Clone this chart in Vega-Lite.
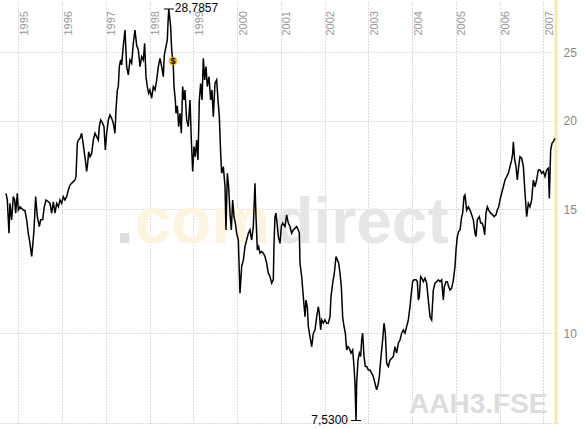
{
  "$schema": "https://vega.github.io/schema/vega-lite/v6.json",
  "width": 557,
  "height": 423,
  "autosize": {"type": "none"},
  "padding": {"left": 0, "top": 0, "right": 28, "bottom": 6},
  "background": "white",
  "config": {"view": {"stroke": null}, "font": "Liberation Sans"},
  "datasets": {
    "price": [
      {"t":1994.719,"v":15.79},{"t":1994.749,"v":15.45},{"t":1994.787,"v":13.86},{"t":1994.810,"v":15.28},{"t":1994.848,"v":14.48},
      {"t":1994.886,"v":15.62},{"t":1994.917,"v":15.45},{"t":1994.940,"v":14.80},{"t":1994.978,"v":15.79},{"t":1995.001,"v":14.95},
      {"t":1995.039,"v":15.11},{"t":1995.115,"v":14.95},{"t":1995.153,"v":14.92},{"t":1995.191,"v":14.48},{"t":1995.229,"v":13.86},
      {"t":1995.267,"v":13.41},{"t":1995.306,"v":12.85},{"t":1995.328,"v":13.27},{"t":1995.359,"v":14.01},{"t":1995.397,"v":15.62},
      {"t":1995.435,"v":14.63},{"t":1995.481,"v":14.17},{"t":1995.511,"v":14.48},{"t":1995.557,"v":14.48},{"t":1995.595,"v":15.11},
      {"t":1995.633,"v":15.45},{"t":1995.686,"v":15.36},{"t":1995.725,"v":15.28},{"t":1995.763,"v":14.80},{"t":1995.801,"v":15.36},
      {"t":1995.839,"v":14.80},{"t":1995.877,"v":15.28},{"t":1995.915,"v":15.11},{"t":1995.953,"v":15.45},{"t":1995.991,"v":15.28},
      {"t":1996.029,"v":15.62},{"t":1996.067,"v":15.45},{"t":1996.106,"v":15.62},{"t":1996.144,"v":15.96},{"t":1996.182,"v":16.22},
      {"t":1996.220,"v":16.31},{"t":1996.258,"v":16.40},{"t":1996.296,"v":16.49},{"t":1996.319,"v":16.67},{"t":1996.349,"v":18.58},
      {"t":1996.372,"v":18.78},{"t":1996.410,"v":18.89},{"t":1996.448,"v":19.20},{"t":1996.471,"v":18.78},{"t":1996.502,"v":18.18},
      {"t":1996.532,"v":17.60},{"t":1996.563,"v":16.95},{"t":1996.586,"v":17.41},{"t":1996.608,"v":18.08},{"t":1996.639,"v":17.79},
      {"t":1996.677,"v":17.98},{"t":1996.715,"v":18.78},{"t":1996.753,"v":19.20},{"t":1996.791,"v":18.99},{"t":1996.829,"v":18.78},
      {"t":1996.852,"v":19.62},{"t":1996.883,"v":20.05},{"t":1996.928,"v":19.83},{"t":1996.959,"v":19.62},{"t":1996.989,"v":18.18},
      {"t":1997.020,"v":19.20},{"t":1997.058,"v":20.05},{"t":1997.096,"v":20.38},{"t":1997.134,"v":20.16},{"t":1997.172,"v":19.83},
      {"t":1997.210,"v":19.20},{"t":1997.233,"v":20.71},{"t":1997.264,"v":22.11},{"t":1997.286,"v":22.35},{"t":1997.309,"v":23.86},
      {"t":1997.340,"v":24.38},{"t":1997.363,"v":23.99},{"t":1997.401,"v":25.56},{"t":1997.439,"v":26.88},{"t":1997.477,"v":23.86},
      {"t":1997.515,"v":23.22},{"t":1997.553,"v":24.38},{"t":1997.591,"v":24.12},{"t":1997.629,"v":25.73},{"t":1997.667,"v":26.88},
      {"t":1997.706,"v":25.56},{"t":1997.744,"v":25.19},{"t":1997.782,"v":23.86},{"t":1997.820,"v":24.64},{"t":1997.858,"v":24.38},
      {"t":1997.888,"v":25.73},{"t":1997.919,"v":23.09},{"t":1997.949,"v":22.35},{"t":1997.980,"v":21.87},{"t":1998.010,"v":22.11},
      {"t":1998.048,"v":21.52},{"t":1998.086,"v":22.35},{"t":1998.125,"v":22.11},{"t":1998.163,"v":22.84},{"t":1998.201,"v":23.86},
      {"t":1998.239,"v":24.51},{"t":1998.277,"v":23.86},{"t":1998.315,"v":23.09},{"t":1998.338,"v":24.78},{"t":1998.368,"v":25.33},
      {"t":1998.406,"v":26.02},{"t":1998.425,"v":27.77},{"t":1998.440,"v":28.7857},{"t":1998.483,"v":27.17},{"t":1998.506,"v":25.19},
      {"t":1998.528,"v":24.38},{"t":1998.544,"v":23.86},{"t":1998.559,"v":22.35},{"t":1998.589,"v":21.40},{"t":1998.605,"v":20.49},
      {"t":1998.635,"v":20.99},{"t":1998.666,"v":19.62},{"t":1998.696,"v":20.49},{"t":1998.726,"v":19.20},{"t":1998.757,"v":22.35},
      {"t":1998.787,"v":21.40},{"t":1998.810,"v":22.11},{"t":1998.848,"v":20.05},{"t":1998.886,"v":19.62},{"t":1998.925,"v":21.40},
      {"t":1998.955,"v":18.78},{"t":1998.986,"v":16.95},{"t":1999.016,"v":18.38},{"t":1999.046,"v":17.79},{"t":1999.077,"v":18.78},
      {"t":1999.107,"v":17.60},{"t":1999.138,"v":21.40},{"t":1999.168,"v":22.58},{"t":1999.199,"v":21.40},{"t":1999.229,"v":24.51},
      {"t":1999.260,"v":22.84},{"t":1999.290,"v":23.86},{"t":1999.321,"v":22.35},{"t":1999.359,"v":23.09},{"t":1999.397,"v":21.40},
      {"t":1999.427,"v":22.11},{"t":1999.458,"v":20.27},{"t":1999.496,"v":22.58},{"t":1999.534,"v":22.84},{"t":1999.565,"v":21.40},
      {"t":1999.595,"v":20.27},{"t":1999.626,"v":17.98},{"t":1999.648,"v":16.85},{"t":1999.686,"v":17.22},{"t":1999.725,"v":16.13},
      {"t":1999.747,"v":14.01},{"t":1999.778,"v":16.85},{"t":1999.808,"v":16.13},{"t":1999.839,"v":14.80},{"t":1999.869,"v":14.01},
      {"t":1999.900,"v":15.45},{"t":1999.930,"v":14.63},{"t":1999.961,"v":14.33},{"t":1999.991,"v":13.86},{"t":2000.029,"v":13.56},
      {"t":2000.067,"v":11.40},{"t":2000.106,"v":12.44},{"t":2000.144,"v":12.71},{"t":2000.182,"v":13.27},{"t":2000.220,"v":13.56},
      {"t":2000.258,"v":13.86},{"t":2000.296,"v":14.01},{"t":2000.334,"v":13.56},{"t":2000.372,"v":14.17},{"t":2000.410,"v":16.31},
      {"t":2000.433,"v":14.63},{"t":2000.464,"v":13.13},{"t":2000.494,"v":13.27},{"t":2000.525,"v":12.99},{"t":2000.563,"v":13.06},
      {"t":2000.601,"v":12.99},{"t":2000.639,"v":12.85},{"t":2000.677,"v":12.57},{"t":2000.715,"v":12.17},{"t":2000.753,"v":12.04},
      {"t":2000.791,"v":11.78},{"t":2000.829,"v":11.91},{"t":2000.845,"v":13.41},{"t":2000.867,"v":14.63},{"t":2000.890,"v":14.80},
      {"t":2000.921,"v":14.17},{"t":2000.944,"v":13.71},{"t":2000.982,"v":13.41},{"t":2001.012,"v":14.17},{"t":2001.043,"v":14.33},
      {"t":2001.096,"v":14.17},{"t":2001.134,"v":14.72},{"t":2001.172,"v":14.33},{"t":2001.210,"v":14.17},{"t":2001.248,"v":13.86},
      {"t":2001.286,"v":14.01},{"t":2001.325,"v":14.09},{"t":2001.363,"v":14.17},{"t":2001.401,"v":14.01},{"t":2001.424,"v":13.86},
      {"t":2001.439,"v":12.57},{"t":2001.477,"v":12.04},{"t":2001.515,"v":11.27},{"t":2001.553,"v":10.56},{"t":2001.576,"v":11.15},
      {"t":2001.606,"v":10.91},{"t":2001.629,"v":10.23},{"t":2001.667,"v":9.90},{"t":2001.706,"v":9.58},{"t":2001.744,"v":10.01},
      {"t":2001.782,"v":10.12},{"t":2001.820,"v":10.56},{"t":2001.858,"v":10.91},{"t":2001.881,"v":10.68},{"t":2001.911,"v":10.12},
      {"t":2001.934,"v":10.45},{"t":2001.972,"v":10.34},{"t":2002.010,"v":10.45},{"t":2002.048,"v":10.34},{"t":2002.086,"v":10.34},
      {"t":2002.125,"v":10.56},{"t":2002.147,"v":11.27},{"t":2002.186,"v":11.78},{"t":2002.224,"v":12.17},{"t":2002.262,"v":12.85},
      {"t":2002.292,"v":12.71},{"t":2002.323,"v":12.57},{"t":2002.353,"v":12.17},{"t":2002.384,"v":11.65},{"t":2002.414,"v":10.56},
      {"t":2002.445,"v":10.23},{"t":2002.475,"v":10.01},{"t":2002.506,"v":9.48},{"t":2002.536,"v":9.58},{"t":2002.566,"v":9.53},
      {"t":2002.605,"v":9.38},{"t":2002.643,"v":9.48},{"t":2002.673,"v":8.98},{"t":2002.696,"v":8.50},{"t":2002.719,"v":7.53},
      {"t":2002.734,"v":8.50},{"t":2002.765,"v":9.17},{"t":2002.795,"v":9.38},{"t":2002.826,"v":9.28},{"t":2002.848,"v":9.79},
      {"t":2002.871,"v":10.01},{"t":2002.902,"v":9.28},{"t":2002.932,"v":8.98},{"t":2002.963,"v":8.98},{"t":2003.001,"v":8.88},
      {"t":2003.039,"v":8.88},{"t":2003.077,"v":8.78},{"t":2003.115,"v":8.69},{"t":2003.153,"v":8.50},{"t":2003.191,"v":8.32},
      {"t":2003.229,"v":8.50},{"t":2003.252,"v":8.69},{"t":2003.283,"v":9.17},{"t":2003.328,"v":9.79},{"t":2003.359,"v":10.34},
      {"t":2003.389,"v":10.01},{"t":2003.420,"v":9.07},{"t":2003.458,"v":8.98},{"t":2003.496,"v":9.17},{"t":2003.534,"v":9.22},
      {"t":2003.572,"v":9.28},{"t":2003.610,"v":9.58},{"t":2003.648,"v":9.38},{"t":2003.686,"v":9.69},{"t":2003.725,"v":9.79},
      {"t":2003.763,"v":10.01},{"t":2003.801,"v":10.12},{"t":2003.839,"v":10.01},{"t":2003.877,"v":10.23},{"t":2003.915,"v":10.45},
      {"t":2003.953,"v":10.91},{"t":2003.991,"v":11.52},{"t":2004.014,"v":11.84},{"t":2004.045,"v":11.91},{"t":2004.090,"v":11.91},
      {"t":2004.121,"v":11.84},{"t":2004.144,"v":11.15},{"t":2004.166,"v":11.27},{"t":2004.197,"v":12.04},{"t":2004.227,"v":11.97},
      {"t":2004.258,"v":11.84},{"t":2004.296,"v":11.97},{"t":2004.334,"v":11.78},{"t":2004.372,"v":11.15},{"t":2004.410,"v":10.56},
      {"t":2004.448,"v":10.45},{"t":2004.486,"v":11.52},{"t":2004.525,"v":11.78},{"t":2004.563,"v":11.84},{"t":2004.601,"v":11.91},
      {"t":2004.639,"v":11.84},{"t":2004.677,"v":11.91},{"t":2004.715,"v":11.15},{"t":2004.738,"v":11.65},{"t":2004.776,"v":11.84},
      {"t":2004.806,"v":11.84},{"t":2004.837,"v":11.65},{"t":2004.867,"v":11.52},{"t":2004.906,"v":11.59},{"t":2004.944,"v":11.91},
      {"t":2004.982,"v":12.44},{"t":2005.005,"v":13.13},{"t":2005.035,"v":13.71},{"t":2005.065,"v":13.94},{"t":2005.096,"v":14.01},
      {"t":2005.134,"v":14.63},{"t":2005.157,"v":14.80},{"t":2005.187,"v":15.62},{"t":2005.210,"v":15.70},{"t":2005.248,"v":14.95},
      {"t":2005.286,"v":15.11},{"t":2005.325,"v":14.95},{"t":2005.363,"v":14.72},{"t":2005.401,"v":14.48},{"t":2005.439,"v":13.86},
      {"t":2005.462,"v":13.71},{"t":2005.492,"v":14.48},{"t":2005.538,"v":14.63},{"t":2005.568,"v":14.33},{"t":2005.599,"v":14.33},
      {"t":2005.629,"v":14.17},{"t":2005.660,"v":13.79},{"t":2005.690,"v":14.80},{"t":2005.721,"v":15.11},{"t":2005.751,"v":14.95},
      {"t":2005.797,"v":14.80},{"t":2005.843,"v":14.72},{"t":2005.873,"v":14.63},{"t":2005.919,"v":14.72},{"t":2005.949,"v":14.95},
      {"t":2005.980,"v":15.11},{"t":2006.010,"v":15.45},{"t":2006.048,"v":15.79},{"t":2006.086,"v":16.13},{"t":2006.125,"v":16.49},
      {"t":2006.163,"v":16.67},{"t":2006.201,"v":16.85},{"t":2006.239,"v":17.22},{"t":2006.277,"v":17.60},{"t":2006.300,"v":17.98},
      {"t":2006.315,"v":18.68},{"t":2006.346,"v":17.60},{"t":2006.376,"v":17.22},{"t":2006.406,"v":16.49},{"t":2006.437,"v":17.22},
      {"t":2006.467,"v":17.79},{"t":2006.506,"v":17.70},{"t":2006.544,"v":17.22},{"t":2006.582,"v":15.79},{"t":2006.620,"v":14.63},
      {"t":2006.658,"v":15.28},{"t":2006.696,"v":15.11},{"t":2006.734,"v":15.45},{"t":2006.772,"v":16.49},{"t":2006.810,"v":16.13},
      {"t":2006.848,"v":16.49},{"t":2006.886,"v":17.04},{"t":2006.925,"v":17.04},{"t":2006.963,"v":16.85},{"t":2007.001,"v":16.95},
      {"t":2007.039,"v":16.67},{"t":2007.077,"v":17.04},{"t":2007.115,"v":17.13},{"t":2007.138,"v":15.53},{"t":2007.168,"v":18.18},
      {"t":2007.199,"v":18.58},{"t":2007.229,"v":18.68},{"t":2007.267,"v":18.89}
    ]
  },
  "layer": [
    {
      "data": {"name": "price"},
      "mark": {"type": "line", "stroke": "#000000", "strokeWidth": 1.3, "opacity": 0},
      "encoding": {
        "x": {
          "field": "t", "type": "quantitative",
          "scale": {"domain": [1994.582, 2007.313], "nice": false, "zero": false},
          "axis": {
            "orient": "top", "values": [1995,1996,1997,1998,1999,2000,2001,2002,2003,2004,2005,2006,2007],
            "format": "d", "title": null, "offset": -36, "domain": false, "ticks": false,
            "labelAngle": 270, "labelAlign": "left", "labelBaseline": "top", "labelPadding": 1,
            "labelColor": "#999999", "labelFontSize": 11, "labelFont": "Liberation Sans",
            "labelOverlap": false, "labelFlush": false, "labelBound": false,
            "grid": true, "gridColor": "#b8b8b8", "gridDash": [1, 2], "gridWidth": 1
          }
        },
        "y": {
          "field": "v", "type": "quantitative",
          "scale": {"type": "log", "domain": [7.47, 29.64], "nice": false, "zero": false},
          "axis": {
            "orient": "right", "values": [7.47, 10, 15, 20, 25],
            "labelExpr": "datum.value < 9 ? '' : format(datum.value, 'd')",
            "title": null, "domain": false, "ticks": false, "labelPadding": 6,
            "labelColor": "#888888", "labelFontSize": 12, "labelFont": "Liberation Sans",
            "grid": true, "gridColor": "#b8b8b8", "gridDash": [1, 2], "gridWidth": 1
          }
        }
      }
    },
    {
      "data": {"values": [{"t": 2007.29}]},
      "mark": {"type": "rule", "stroke": "#fce6a8", "strokeWidth": 3},
      "encoding": {"x": {"field": "t", "type": "quantitative"}}
    },
    {
      "data": {"values": [{}]},
      "mark": {"type": "text", "text": ".", "font": "Liberation Sans", "fontWeight": "bold", "fontSize": 66, "align": "left", "baseline": "alphabetic", "color": "#dddddd"},
      "encoding": {"x": {"datum": 1997.222}, "y": {"datum": 13.43}}
    },
    {
      "data": {"values": [{}]},
      "mark": {"type": "text", "text": "com", "font": "Liberation Sans", "fontWeight": "bold", "fontSize": 66, "align": "left", "baseline": "alphabetic", "color": "#fdf4de"},
      "encoding": {"x": {"datum": 1997.654}, "y": {"datum": 13.43}}
    },
    {
      "data": {"values": [{}]},
      "mark": {"type": "text", "text": "direct", "font": "Liberation Sans", "fontWeight": "bold", "fontSize": 64, "align": "left", "baseline": "alphabetic", "color": "#e6e6e6"},
      "encoding": {"x": {"datum": 2000.854}, "y": {"datum": 13.43}}
    },
    {
      "data": {"values": [{}]},
      "mark": {"type": "text", "text": "AAH3.FSE", "font": "Liberation Sans", "fontWeight": "bold", "fontSize": 28, "align": "right", "baseline": "alphabetic", "color": "#dcdcdc"},
      "encoding": {"x": {"datum": 2007.096}, "y": {"datum": 7.72}}
    },
    {
      "data": {"name": "price"},
      "mark": {"type": "line", "stroke": "#000000", "strokeWidth": 1.5, "interpolate": "linear"},
      "encoding": {
        "x": {"field": "t", "type": "quantitative"},
        "y": {"field": "v", "type": "quantitative"}
      }
    },
    {
      "data": {"values": [{"t": 1998.44, "v": 28.7857, "label": "28,7857"}]},
      "layer": [
        {"mark": {"type": "tick", "orient": "horizontal", "size": 10, "thickness": 1, "color": "#000000", "opacity": 1},
         "encoding": {"x": {"field": "t", "type": "quantitative"}, "y": {"field": "v", "type": "quantitative"}}},
        {"mark": {"type": "text", "align": "left", "baseline": "middle", "dx": 6, "dy": -1, "fontSize": 12, "font": "Liberation Sans", "color": "#000000"},
         "encoding": {"x": {"field": "t", "type": "quantitative"}, "y": {"field": "v", "type": "quantitative"}, "text": {"field": "label"}}}
      ]
    },
    {
      "data": {"values": [{"t": 2002.719, "v": 7.53, "label": "7,5300"}]},
      "layer": [
        {"mark": {"type": "tick", "orient": "horizontal", "size": 10, "thickness": 1, "color": "#000000", "opacity": 1},
         "encoding": {"x": {"field": "t", "type": "quantitative"}, "y": {"field": "v", "type": "quantitative"}}},
        {"mark": {"type": "text", "align": "right", "baseline": "middle", "dx": -8, "dy": -1, "fontSize": 12, "font": "Liberation Sans", "color": "#000000"},
         "encoding": {"x": {"field": "t", "type": "quantitative"}, "y": {"field": "v", "type": "quantitative"}, "text": {"field": "label"}}}
      ]
    },
    {
      "data": {"values": [{"t": 1998.537, "v": 24.3, "label": "$"}]},
      "layer": [
        {"mark": {"type": "point", "shape": "circle", "filled": true, "size": 60, "color": "#f6b400", "stroke": "#e8a000", "strokeWidth": 0.5, "opacity": 1},
         "encoding": {"x": {"field": "t", "type": "quantitative"}, "y": {"field": "v", "type": "quantitative"}}},
        {"mark": {"type": "text", "align": "center", "baseline": "middle", "fontSize": 9, "fontWeight": "bold", "font": "Liberation Sans", "color": "#000000"},
         "encoding": {"x": {"field": "t", "type": "quantitative"}, "y": {"field": "v", "type": "quantitative"}, "text": {"field": "label"}}}
      ]
    }
  ]
}
